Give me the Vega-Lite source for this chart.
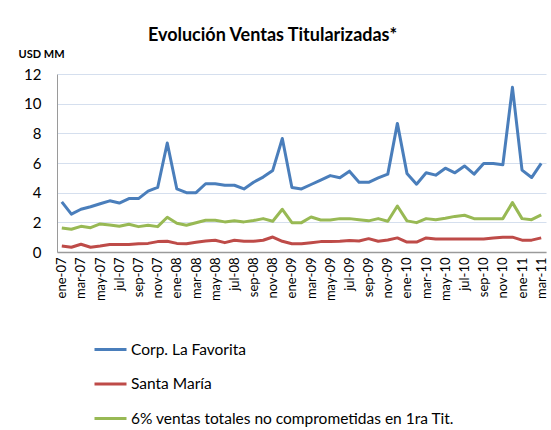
{
  "$schema": "https://vega.github.io/schema/vega-lite/v6.json",
  "autosize": {"type": "none"},
  "width": 489,
  "height": 178,
  "padding": {"left": 57, "top": 74, "right": 5, "bottom": 178},
  "background": "white",
  "title": {
    "text": "Evolución Ventas Titularizadas*",
    "font": "Lato",
    "fontSize": 18,
    "fontWeight": "bold",
    "color": "#000000",
    "anchor": "middle",
    "offset": 3,
    "dx": -29
  },
  "data": {
    "values": [
      {"m": "ene-07", "fav": 3.38, "sm": 0.40, "pct": 1.62},
      {"m": "feb-07", "fav": 2.55, "sm": 0.32, "pct": 1.53},
      {"m": "mar-07", "fav": 2.88, "sm": 0.52, "pct": 1.73},
      {"m": "abr-07", "fav": 3.05, "sm": 0.32, "pct": 1.64},
      {"m": "may-07", "fav": 3.25, "sm": 0.40, "pct": 1.89},
      {"m": "jun-07", "fav": 3.45, "sm": 0.50, "pct": 1.82},
      {"m": "jul-07", "fav": 3.30, "sm": 0.50, "pct": 1.73},
      {"m": "ago-07", "fav": 3.60, "sm": 0.50, "pct": 1.87},
      {"m": "sep-07", "fav": 3.60, "sm": 0.56, "pct": 1.71},
      {"m": "oct-07", "fav": 4.10, "sm": 0.58, "pct": 1.80},
      {"m": "nov-07", "fav": 4.35, "sm": 0.70, "pct": 1.71},
      {"m": "dic-07", "fav": 7.35, "sm": 0.72, "pct": 2.34},
      {"m": "ene-08", "fav": 4.25, "sm": 0.58, "pct": 1.94},
      {"m": "feb-08", "fav": 4.00, "sm": 0.56, "pct": 1.80},
      {"m": "mar-08", "fav": 4.00, "sm": 0.65, "pct": 1.97},
      {"m": "abr-08", "fav": 4.60, "sm": 0.74, "pct": 2.14},
      {"m": "may-08", "fav": 4.60, "sm": 0.79, "pct": 2.14},
      {"m": "jun-08", "fav": 4.50, "sm": 0.63, "pct": 2.03},
      {"m": "jul-08", "fav": 4.50, "sm": 0.79, "pct": 2.10},
      {"m": "ago-08", "fav": 4.25, "sm": 0.72, "pct": 2.03},
      {"m": "sep-08", "fav": 4.70, "sm": 0.72, "pct": 2.12},
      {"m": "oct-08", "fav": 5.05, "sm": 0.79, "pct": 2.25},
      {"m": "nov-08", "fav": 5.50, "sm": 1.01, "pct": 2.07},
      {"m": "dic-08", "fav": 7.65, "sm": 0.72, "pct": 2.88},
      {"m": "ene-09", "fav": 4.35, "sm": 0.56, "pct": 1.98},
      {"m": "feb-09", "fav": 4.25, "sm": 0.56, "pct": 1.98},
      {"m": "mar-09", "fav": 4.55, "sm": 0.63, "pct": 2.36},
      {"m": "abr-09", "fav": 4.85, "sm": 0.70, "pct": 2.16},
      {"m": "may-09", "fav": 5.15, "sm": 0.70, "pct": 2.16},
      {"m": "jun-09", "fav": 5.00, "sm": 0.72, "pct": 2.25},
      {"m": "jul-09", "fav": 5.45, "sm": 0.77, "pct": 2.25},
      {"m": "ago-09", "fav": 4.70, "sm": 0.74, "pct": 2.17},
      {"m": "sep-09", "fav": 4.70, "sm": 0.90, "pct": 2.10},
      {"m": "oct-09", "fav": 5.00, "sm": 0.72, "pct": 2.25},
      {"m": "nov-09", "fav": 5.25, "sm": 0.81, "pct": 2.07},
      {"m": "dic-09", "fav": 8.67, "sm": 0.95, "pct": 3.10},
      {"m": "ene-10", "fav": 5.30, "sm": 0.67, "pct": 2.10},
      {"m": "feb-10", "fav": 4.57, "sm": 0.67, "pct": 1.98},
      {"m": "mar-10", "fav": 5.34, "sm": 0.95, "pct": 2.25},
      {"m": "abr-10", "fav": 5.18, "sm": 0.88, "pct": 2.18},
      {"m": "may-10", "fav": 5.65, "sm": 0.88, "pct": 2.27},
      {"m": "jun-10", "fav": 5.34, "sm": 0.88, "pct": 2.40},
      {"m": "jul-10", "fav": 5.80, "sm": 0.88, "pct": 2.48},
      {"m": "ago-10", "fav": 5.25, "sm": 0.88, "pct": 2.25},
      {"m": "sep-10", "fav": 5.97, "sm": 0.88, "pct": 2.25},
      {"m": "oct-10", "fav": 5.97, "sm": 0.95, "pct": 2.25},
      {"m": "nov-10", "fav": 5.88, "sm": 1.00, "pct": 2.25},
      {"m": "dic-10", "fav": 11.10, "sm": 1.00, "pct": 3.33},
      {"m": "ene-11", "fav": 5.52, "sm": 0.80, "pct": 2.25},
      {"m": "feb-11", "fav": 5.02, "sm": 0.80, "pct": 2.18},
      {"m": "mar-11", "fav": 5.97, "sm": 0.95, "pct": 2.50}
    ]
  },
  "transform": [
    {"fold": ["fav", "sm", "pct"], "as": ["serie", "valor"]}
  ],
  "mark": {"type": "line", "strokeWidth": 3, "strokeJoin": "round"},
  "encoding": {
    "x": {
      "field": "m",
      "type": "ordinal",
      "sort": null,
      "scale": {"type": "point", "padding": 0.5},
      "axis": {
        "title": null,
        "values": ["ene-07","mar-07","may-07","jul-07","sep-07","nov-07","ene-08","mar-08","may-08","jul-08","sep-08","nov-08","ene-09","mar-09","may-09","jul-09","sep-09","nov-09","ene-10","mar-10","may-10","jul-10","sep-10","nov-10","ene-11","mar-11"],
        "labelAngle": -90,
        "labelFont": "Lato",
        "labelFontSize": 13,
        "labelColor": "#000000",
        "labelPadding": 5,
        "ticks": false,
        "grid": false,
        "domainColor": "#9a9a9a",
        "domainWidth": 1.5
      }
    },
    "y": {
      "field": "valor",
      "type": "quantitative",
      "scale": {"domain": [0, 12], "nice": false},
      "axis": {
        "values": [0, 2, 4, 6, 8, 10, 12],
        "title": "USD MM",
        "titleAngle": 0,
        "titleAlign": "left",
        "titleBaseline": "alphabetic",
        "titleX": -39,
        "titleY": -17,
        "titleFont": "Lato",
        "titleFontSize": 11,
        "titleFontWeight": "bold",
        "titleColor": "#000000",
        "labelFont": "Lato",
        "labelFontSize": 15,
        "labelColor": "#000000",
        "labelPadding": 16,
        "ticks": false,
        "grid": true,
        "gridColor": "#d5dfee",
        "gridWidth": 1,
        "domainColor": "#9a9a9a",
        "domainWidth": 1
      }
    },
    "color": {
      "field": "serie",
      "type": "nominal",
      "sort": ["fav", "sm", "pct"],
      "scale": {"domain": ["fav", "sm", "pct"], "range": ["#4a7ebb", "#be4b48", "#98b954"]},
      "legend": {
        "title": null,
        "orient": "none",
        "direction": "vertical",
        "legendX": 36,
        "legendY": 258,
        "symbolType": "stroke",
        "symbolSize": 1024,
        "symbolStrokeWidth": 3,
        "labelFont": "Lato",
        "labelFontSize": 15.5,
        "labelColor": "#000000",
        "labelOffset": 3,
        "labelLimit": 450,
        "rowPadding": 8.5,
        "labelExpr": "datum.value == 'fav' ? 'Corp. La Favorita' : datum.value == 'sm' ? 'Santa María' : '6% ventas totales no comprometidas en 1ra Tit.'"
      }
    }
  },
  "config": {
    "view": {"stroke": null}
  }
}
